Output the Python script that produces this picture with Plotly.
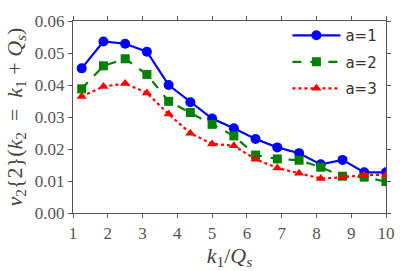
import plotly.graph_objects as go

x = [1.25, 1.875, 2.5, 3.125, 3.75, 4.375, 5.0, 5.625, 6.25, 6.875, 7.5, 8.125, 8.75, 9.375, 10.0]
a1 = [0.0452, 0.0536, 0.0529, 0.0504, 0.0400, 0.0346, 0.0295, 0.0265, 0.0231, 0.0205, 0.0187, 0.0152, 0.0166, 0.0127, 0.0127]
a2 = [0.0388, 0.0460, 0.0482, 0.0433, 0.0349, 0.0314, 0.0277, 0.0241, 0.0181, 0.0169, 0.0165, 0.0143, 0.0115, 0.0112, 0.0098]
a3 = [0.0364, 0.0395, 0.0405, 0.0375, 0.0309, 0.0249, 0.0216, 0.0210, 0.0168, 0.0141, 0.0124, 0.0108, 0.0111, 0.0119, 0.0119]
names = ["a=1", "a=2", "a=3"]
xticks = [1, 2, 3, 4, 5, 6, 7, 8, 9, 10]
yticks = [0.0, 0.01, 0.02, 0.03, 0.04, 0.05, 0.06]

SERIF = "Liberation Serif"

fig = go.Figure()
fig.add_trace(go.Scatter(x=x, y=a1, name=names[0], mode="lines+markers", legendgroup="g1",
                         line=dict(color="#0000ff", width=2.2, dash="solid"),
                         marker=dict(symbol="circle", size=10, color="#0000ff")))
fig.add_trace(go.Scatter(x=x, y=a2, name=names[1], mode="lines+markers", legendgroup="g2",
                         line=dict(color="#008000", width=2.2, dash="dash"),
                         marker=dict(symbol="square", size=9, color="#008000")))
fig.add_trace(go.Scatter(x=x, y=a3, name=names[2], mode="lines+markers", legendgroup="g3",
                         line=dict(color="#ff0000", width=2.2, dash="dot"),
                         marker=dict(symbol="triangle-up", size=9, color="#ff0000")))

axis_common = dict(showline=True, linecolor="#555555", linewidth=1.3, mirror="allticks",
                   ticks="outside", ticklen=4, tickwidth=1, tickcolor="#555555",
                   showgrid=False, zeroline=False,
                   tickfont=dict(family=SERIF, size=17, color="#555555"))

fig.update_xaxes(range=[1, 10], tickvals=xticks, ticktext=[str(t) for t in xticks],
                 title=dict(text="<i>k</i><sub>1</sub>/<i>Q<sub>s</sub></i>",
                            font=dict(family=SERIF, size=22, color="#444444"),
                            standoff=0),
                 **axis_common)
fig.update_yaxes(range=[0, 0.06], tickvals=yticks, ticktext=["%.2f" % t for t in yticks],
                 title=dict(text="<i>v</i><sub>2</sub>{2}(<i>k</i><sub>2</sub>&nbsp;&nbsp;=&nbsp;&nbsp;<i>k</i><sub>1</sub>&nbsp;+&nbsp;<i>Q<sub>s</sub></i>)",
                            font=dict(family=SERIF, size=22, color="#444444"),
                            standoff=6),
                 **axis_common)

fig.update_layout(width=407, height=271, margin=dict(l=73, r=13, t=12, b=58),
                  paper_bgcolor="white", plot_bgcolor="white",
                  legend=dict(x=0.685, y=1.01, xanchor="left", yanchor="top",
                              bgcolor="rgba(0,0,0,0)", itemwidth=48, tracegroupgap=4,
                              font=dict(family="DejaVu Sans", size=15, color="#333333")),
                  showlegend=True)

fig.write_html("out.html", config={"displayModeBar": False},
               post_script="document.body.style.margin='0';document.body.style.overflow='hidden';")
